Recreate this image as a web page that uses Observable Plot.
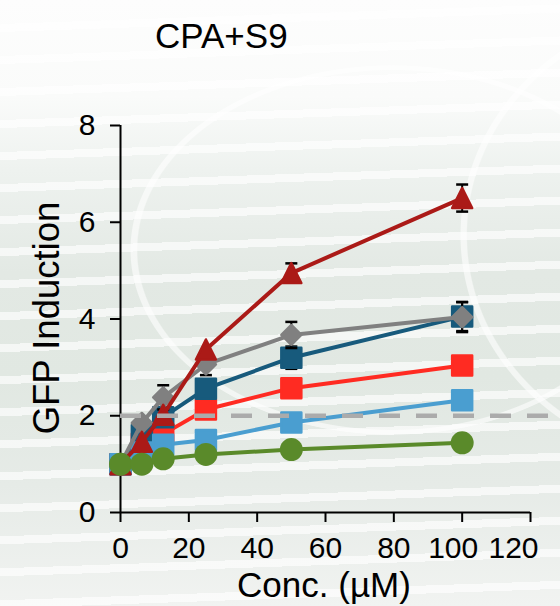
<!DOCTYPE html>
<html>
<head>
<meta charset="utf-8">
<script src="https://cdn.jsdelivr.net/npm/d3@7"></script>
<script src="https://cdn.jsdelivr.net/npm/@observablehq/plot@0.6"></script>
<style>
  html, body { margin: 0; padding: 0; }
  body {
    width: 560px;
    height: 606px;
    overflow: hidden;
    font-family: "Liberation Sans", Arial, Helvetica, sans-serif;
    background:
      radial-gradient(ellipse 262px 185px at 392px 250px, rgba(255,255,255,0) 97%, rgba(255,255,255,0.6) 97.5%, rgba(255,255,255,0.6) 99.6%, rgba(255,255,255,0) 100%),
      radial-gradient(ellipse 250px 230px at 710px 235px, rgba(255,255,255,0) 97%, rgba(255,255,255,0.6) 97.5%, rgba(255,255,255,0.6) 99.6%, rgba(255,255,255,0) 100%),
      repeating-linear-gradient(178deg, rgba(255,255,255,0) 0px, rgba(255,255,255,0) 24px, rgba(255,255,255,0.65) 24px, rgba(255,255,255,0.65) 32px),
      linear-gradient(180deg, #fdfdfd 0%, #fafbfa 16%, #eef2ef 28%, #e3e9e4 45%, #e1e8e2 62%, #e6ebe7 80%, #f1f3f1 100%);
  }
  #title {
    height: 70px;
    box-sizing: border-box;
    padding: 16px 0 0 155px;
    font-size: 35px;
    line-height: 40px;
    color: #000;
  }
  #chart svg { display: block; overflow: visible; }
</style>
</head>
<body>
<div id="title">CPA+S9</div>
<div id="chart"></div>
<script>
// Concentrations tested (µM)
const conc = [0, 6.25, 12.5, 25, 50, 100];

// GFP induction per reporter, with standard errors (0 = no bar drawn)
const redValues       = [1.00, 1.42, 1.62, 2.13, 2.57, 3.04];
const redErr          = [0, 0, 0, 0, 0, 0];
const darkBlueValues  = [1.00, 1.60, 1.97, 2.56, 3.20, 4.05];
const darkBlueErr     = [0, 0, 0, 0, 0.23, 0.30];
const lightBlueValues = [1.00, 1.24, 1.40, 1.50, 1.86, 2.32];
const lightBlueErr    = [0, 0, 0, 0, 0, 0];
const grayValues      = [1.00, 1.85, 2.38, 3.06, 3.67, 4.04];
const grayErr         = [0, 0, 0.25, 0.22, 0.27, 0.31];
const darkRedValues   = [1.00, 1.46, 2.02, 3.37, 4.95, 6.50];
const darkRedErr      = [0, 0, 0, 0, 0.20, 0.28];
const greenValues     = [1.00, 1.00, 1.11, 1.20, 1.30, 1.44];
const greenErr        = [0, 0, 0, 0, 0, 0];

// Axis ticks and the 2-fold induction threshold
const xTicks = [0, 20, 40, 60, 80, 100, 120];
const yTicks = [0, 2, 4, 6, 8];
const threshold = [2];

// Marker shapes (size is π·r², so k equals the dot radius)
const rad = (size) => Math.sqrt(size / Math.PI);
const squareSym = { draw(ctx, size) { const k = rad(size); ctx.rect(-k, -k, 2 * k, 2 * k); } };
const diamondSym = { draw(ctx, size) { const k = rad(size); ctx.moveTo(0, -k); ctx.lineTo(k, 0); ctx.lineTo(0, k); ctx.lineTo(-k, 0); ctx.closePath(); } };
const triangleSym = { draw(ctx, size) { const k = rad(size); ctx.moveTo(0, -k); ctx.lineTo(k, k); ctx.lineTo(-k, k); ctx.closePath(); } };
const capSym = { draw(ctx, size) { const k = rad(size); ctx.moveTo(-k, 0); ctx.lineTo(k, 0); } };

// Draw order: bottom to top
const series = [
  { name: "red",       color: "#ff2b22", values: redValues,       err: redErr,       symbol: squareSym,   r: 10,   sw: 2.5 },
  { name: "darkBlue",  color: "#175a7c", values: darkBlueValues,  err: darkBlueErr,  symbol: squareSym,   r: 10,   sw: 2.5 },
  { name: "lightBlue", color: "#4a9ed0", values: lightBlueValues, err: lightBlueErr, symbol: squareSym,   r: 10,   sw: 2.5 },
  { name: "gray",      color: "#808080", values: grayValues,      err: grayErr,      symbol: diamondSym,  r: 10,   sw: 2.5 },
  { name: "darkRed",   color: "#ab1a17", values: darkRedValues,   err: darkRedErr,   symbol: triangleSym, r: 10,   sw: 2.5 },
  { name: "green",     color: "#5a8a2a", values: greenValues,     err: greenErr,     symbol: "circle",    r: 11.5, sw: 0 }
];

const axisFont = 30;
const xTickText = { tickSize: 0, tickPadding: 24, label: null, fill: "#000", fontSize: axisFont };

const marks = [
  Plot.ruleX([0], { stroke: "#000", strokeWidth: 2 }),
  Plot.ruleY([0], { stroke: "#000", strokeWidth: 2 }),
  // x tick marks; labels for the last two ticks sit a little to the left to stay inside the frame
  Plot.axisX({ ticks: xTicks, tickSize: 10, tickFormat: () => "", label: null, strokeWidth: 2 }),
  Plot.axisX({ ...xTickText, ticks: xTicks.slice(0, 5) }),
  Plot.axisX({ ...xTickText, ticks: xTicks.slice(5, 6), dx: -9 }),
  Plot.axisX({ ...xTickText, ticks: xTicks.slice(6), dx: -17 }),
  Plot.axisY({ ticks: yTicks, tickSize: 10, tickPadding: 15, label: null, strokeWidth: 2, fill: "#000", fontSize: axisFont })
];

for (const s of series) {
  const rows = conc.map((x, i) => ({ x, y: s.values[i], err: s.err[i] }));
  const bars = rows.filter((d) => d.err > 0);
  marks.push(
    Plot.line(rows, { x: "x", y: "y", stroke: s.color, strokeWidth: 4, strokeLinejoin: "round" }),
    Plot.ruleX(bars, { x: "x", y1: (d) => d.y - d.err, y2: (d) => d.y + d.err, stroke: "#000", strokeWidth: 2 }),
    Plot.dot(bars, { x: "x", y: (d) => d.y + d.err, symbol: capSym, r: 6, stroke: "#000", strokeWidth: 2.5, fill: "none" }),
    Plot.dot(bars, { x: "x", y: (d) => d.y - d.err, symbol: capSym, r: 6, stroke: "#000", strokeWidth: 2.5, fill: "none" }),
    Plot.dot(rows, {
      x: "x", y: "y", symbol: s.symbol, r: s.r, fill: s.color,
      stroke: s.sw ? s.color : "none", strokeWidth: s.sw, strokeLinejoin: "round"
    })
  );
}

// Dashed 2-fold threshold, running to the right edge
marks.push(Plot.ruleY(threshold, { x1: 0, x2: 132, stroke: "#ababab", strokeWidth: 4.5, strokeDasharray: "21 16" }));

const chart = Plot.plot({
  width: 560,
  height: 536,
  marginLeft: 120,
  marginRight: 30,
  marginTop: 55,
  marginBottom: 94,
  x: { domain: [0, 120] },
  y: { domain: [0, 8] },
  style: { background: "transparent", fontSize: axisFont + "px", fontFamily: "'Liberation Sans', Arial, Helvetica, sans-serif", color: "#000", overflow: "visible" },
  marks
});

const svg = d3.select(chart);
svg.append("text")
  .attr("transform", "translate(59,248) rotate(-90)")
  .attr("text-anchor", "middle")
  .attr("font-size", 36.5)
  .attr("fill", "#000")
  .text("GFP Induction");
svg.append("text")
  .attr("x", 324)
  .attr("y", 526.5)
  .attr("text-anchor", "middle")
  .attr("font-size", 35)
  .attr("fill", "#000")
  .text("Conc. (µM)");

document.getElementById("chart").append(chart);
</script>
</body>
</html>
